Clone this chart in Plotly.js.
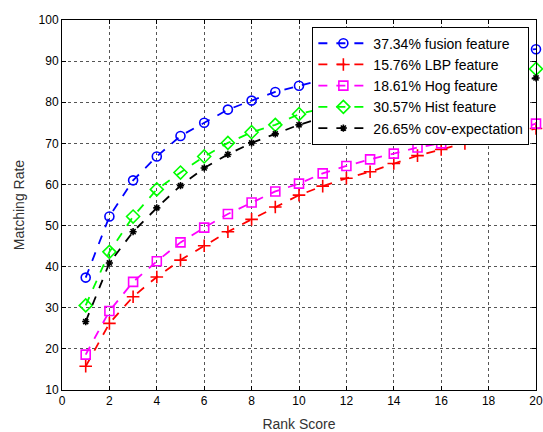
<!DOCTYPE html>
<html>
<head>
<meta charset="utf-8">
<script src="https://cdn.plot.ly/plotly-3.0.1.min.js"></script>
<style>html,body{margin:0;padding:0;background:#fff;}#chart{width:543px;height:432px;}</style>
</head>
<body>
<div id="chart"></div>
<script>
const rank = [1,2,3,4,5,6,7,8,9,10,11,12,13,14,15,16,17,18,19,20];
const fusion = [37.34,52.2,61.0,66.8,71.8,75.0,78.2,80.4,82.5,84.0,85.5,86.8,88.0,89.0,89.9,90.7,91.4,92.0,92.5,92.9];
const lbp = [15.76,26.2,32.7,37.5,41.6,45.1,48.5,51.5,54.5,57.4,59.6,61.5,63.1,65.1,67.0,68.5,70.0,71.6,72.2,73.6];
const hog = [18.61,29.2,36.3,41.3,45.9,49.5,52.8,55.6,58.3,60.2,62.7,64.5,66.1,67.5,69.0,70.0,71.0,72.0,72.8,74.8];
const hist = [30.57,43.6,52.2,58.8,62.9,66.8,70.1,72.7,74.5,77.1,78.5,79.8,81.0,82.2,83.3,84.4,85.4,86.3,87.2,88.1];
const cov = [26.65,40.9,48.5,54.3,59.7,64.0,67.3,70.1,72.3,74.5,76.3,77.8,79.1,80.3,81.4,82.4,83.4,84.3,85.1,85.9];
const names = ['37.34% fusion feature','15.76% LBP feature','18.61% Hog feature','30.57% Hist feature','26.65% cov-expectation'];
const xTicks = [0,2,4,6,8,10,12,14,16,18,20];
const yTicks = [10,20,30,40,50,60,70,80,90,100];

const series = [
  {y: fusion, color: '#0000ff', symbol: 'circle-open', size: 9},
  {y: lbp, color: '#ff0000', symbol: 'cross-thin-open', size: 9},
  {y: hog, color: '#ff00ff', symbol: 'square-open', size: 9},
  {y: hist, color: '#00ff00', symbol: 'diamond-open', size: 10},
  {y: cov, color: '#000000', symbol: 'asterisk-open', size: 6}
];

const traces = series.map((s, i) => ({
  x: rank, y: s.y, name: names[i], type: 'scatter', mode: 'lines+markers',
  cliponaxis: false,
  line: {color: s.color, dash: 'dash', width: 1.8},
  marker: {symbol: s.symbol, size: s.size, color: s.color, line: {color: s.color, width: 1.6}}
}));

const axisCommon = {
  showline: true, linecolor: '#000', linewidth: 1, mirror: 'all',
  ticks: 'inside', ticklen: 4, tickcolor: '#000',
  showgrid: true, gridcolor: '#555', griddash: 'dot', gridwidth: 1,
  zeroline: false, tickfont: {family: 'Liberation Sans, Arial, sans-serif', size: 12, color: '#000'}
};

const layout = {
  width: 543, height: 432,
  margin: {l: 62, r: 7, t: 20, b: 42},
  paper_bgcolor: '#fff', plot_bgcolor: '#fff',
  showlegend: true,
  xaxis: Object.assign({}, axisCommon, {
    range: [0, 20], tickvals: xTicks, ticktext: xTicks.map(String),
    title: {text: 'Rank Score', font: {family: 'Liberation Sans, Arial, sans-serif', size: 14, color: '#333'}, standoff: 11}
  }),
  yaxis: Object.assign({}, axisCommon, {
    range: [10, 100], tickvals: yTicks, ticktext: yTicks.map(String),
    title: {text: 'Matching Rate', font: {family: 'Liberation Sans, Arial, sans-serif', size: 14, color: '#333'}, standoff: 10}
  }),
  legend: {
    x: 0.986, y: 0.982, xanchor: 'right', yanchor: 'top',
    bgcolor: '#fff', bordercolor: '#000', borderwidth: 1,
    font: {family: 'Liberation Sans, Arial, sans-serif', size: 14, color: '#000'},
    tracegroupgap: 0, itemwidth: 50
  }
};

Plotly.newPlot('chart', traces, layout, {staticPlot: true, displayModeBar: false});
</script>
</body>
</html>
